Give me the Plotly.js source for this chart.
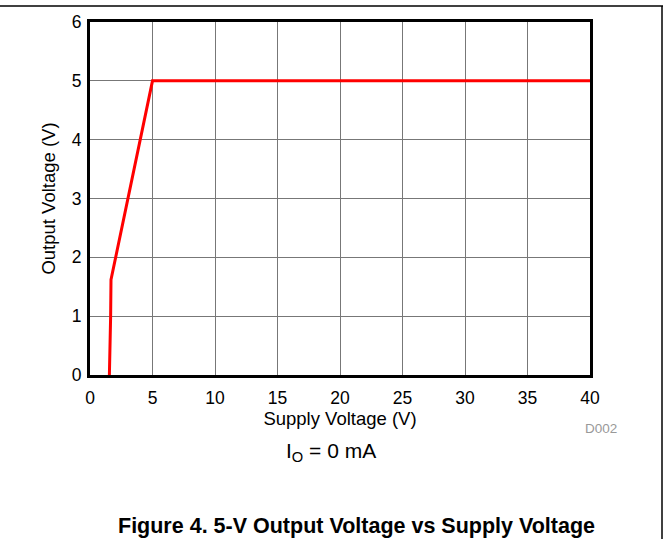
<!DOCTYPE html>
<html>
<head>
<meta charset="utf-8">
<script src="https://cdn.plot.ly/plotly-3.0.1.min.js"></script>
<style>html,body{margin:0;padding:0;background:#fff;}#chart{width:669px;height:539px;}</style>
</head>
<body>
<div id="chart"></div>
<script>
// Data
const supplyVoltage = [1.55, 1.6, 1.65, 1.68, 5, 40];
const outputVoltage = [0, 0.35, 1.0, 1.62, 5, 5];
const xTicks = [0, 5, 10, 15, 20, 25, 30, 35, 40];
const yTicks = [0, 1, 2, 3, 4, 5, 6];
const xTitle = 'Supply Voltage (V)';
const yTitle = 'Output Voltage (V)';
const conditionText = 'I<sub>O</sub> = 0 mA';
const figureCode = 'D002';
const captionText = '<b>Figure 4. 5-V Output Voltage vs Supply Voltage</b>';

const font = 'Liberation Sans, Arial, sans-serif';

const trace = {
  x: supplyVoltage, y: outputVoltage, type: 'scatter', mode: 'lines',
  line: {color: '#ff0000', width: 3}, hoverinfo: 'skip'
};

const layout = {
  width: 669, height: 539,
  margin: {l: 90, r: 79, t: 22, b: 164},
  paper_bgcolor: '#fff', plot_bgcolor: '#fff',
  showlegend: false,
  font: {family: font, color: '#000'},
  xaxis: {
    range: [0, 40], tickvals: xTicks, ticktext: xTicks.map(String),
    showgrid: true, gridcolor: '#777', gridwidth: 1,
    zeroline: false, showline: true, linecolor: '#000', linewidth: 3, mirror: true,
    ticks: '', tickfont: {size: 17.5, family: font}, ticklabelstandoff: 5,
    title: {text: xTitle, font: {size: 18.5, family: font}, standoff: 6}
  },
  yaxis: {
    range: [0, 6], tickvals: yTicks, ticktext: yTicks.map(String),
    showgrid: true, gridcolor: '#777', gridwidth: 1,
    zeroline: false, showline: true, linecolor: '#000', linewidth: 3, mirror: true,
    ticks: '', tickfont: {size: 17.5, family: font}, ticklabelstandoff: 2,
    title: {text: yTitle, font: {size: 18.5, family: font}, standoff: 12}
  },
  annotations: [
    {text: conditionText, xref: 'paper', yref: 'paper', x: (331 - 90) / 500, y: (375 - 452) / 353,
     xanchor: 'center', yanchor: 'middle', showarrow: false, font: {size: 21, family: font}},
    {text: figureCode, xref: 'paper', yref: 'paper', x: (601 - 90) / 500, y: (375 - 428) / 353,
     xanchor: 'center', yanchor: 'middle', showarrow: false, font: {size: 13.5, family: font, color: '#999'}},
    {text: captionText, xref: 'paper', yref: 'paper', x: (356 - 90) / 500, y: (375 - 526) / 353,
     xanchor: 'center', yanchor: 'middle', showarrow: false, font: {size: 21.5, family: font}}
  ],
  shapes: [
    {type: 'line', xref: 'paper', yref: 'paper', x0: -90 / 500, x1: (663 - 90) / 500,
     y0: (375 - 6) / 353, y1: (375 - 6) / 353, line: {color: '#000', width: 1.5}},
    {type: 'line', xref: 'paper', yref: 'paper', x0: (662 - 90) / 500, x1: (662 - 90) / 500,
     y0: (375 - 6) / 353, y1: (375 - 545) / 353, line: {color: '#000', width: 1.5}}
  ]
};

Plotly.newPlot('chart', [trace], layout, {displayModeBar: false, staticPlot: true});
</script>
</body>
</html>
